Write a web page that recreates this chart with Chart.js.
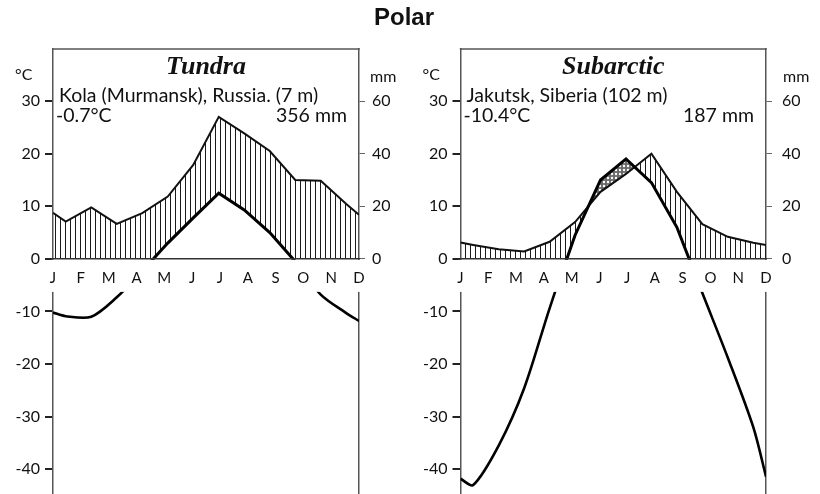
<!DOCTYPE html>
<html>
<head>
<meta charset="utf-8">
<script src="https://cdn.jsdelivr.net/npm/chart.js@4.4.1/dist/chart.umd.min.js"></script>
<style>
  body { margin: 0; background: #fff; }
  #wrap { position: relative; width: 820px; height: 494px; overflow: hidden; }
  #title { position: absolute; left: 0; top: 3px; width: 808px; text-align: center;
           font: bold 24px "Liberation Sans", Arial, sans-serif; line-height: 28px; color: #111; z-index: 2; }
  canvas { position: absolute; top: 0; }
  #tundra { left: 0; }
  #subarctic { left: 410px; }
</style>
</head>
<body>
<div id="wrap">
  <div id="title">Polar</div>
  <canvas id="tundra" width="410" height="494"></canvas>
  <canvas id="subarctic" width="410" height="494"></canvas>
</div>
<script>
// monthly means, plotted at mid-month; the edge values are where the curves meet the frame
const months = ['J', 'F', 'M', 'A', 'M', 'J', 'J', 'A', 'S', 'O', 'N', 'D'];

const tundraTemp = [-10.9, -11.0, -7.3, -2.3, 3.0, 7.8, 12.5, 9.3, 5.0, -0.5, -6.8, -10.3];
const tundraTempEdge = [-10.2, -11.8];
const tundraPrecip = [14.2, 19.6, 13.3, 17.4, 23.7, 35.7, 54.0, 47.7, 41.0, 30.0, 29.7, 20.9];
const tundraPrecipEdge = [17.5, 16.8];

const subarcticTemp = [-43.0, -35.5, -24.6, -9.4, 4.5, 15.0, 19.0, 14.5, 6.0, -6.5, -18.8, -32.0];
const subarcticTempEdge = [-41.8, -41.4];
const subarcticPrecip = [5.3, 3.7, 2.8, 6.5, 14.0, 25.5, 32.3, 40.0, 25.5, 13.2, 8.4, 6.1];
const subarcticPrecipEdge = [6.2, 5.3];

const tempTicks = [-40, -30, -20, -10, 0, 10, 20, 30];
const precipTicks = [0, 20, 40, 60];

const SANS = 'Lato, "Open Sans", sans-serif';
const SERIF = '"Liberation Serif", "Times New Roman", serif';
const INK = '#111';
const FRAME = '#555';
const NONE = 'rgba(0,0,0,0)';

function monthPoints(values, edges) {
    const pts = values.map((v, i) => ({ x: i + 0.5, y: v }));
    return [{ x: 0, y: edges[0] }, ...pts, { x: 12, y: edges[1] }];
}

function hatchPattern(ctx) {
    const c = document.createElement('canvas');
    c.width = 5; c.height = 5;
    const g = c.getContext('2d');
    g.fillStyle = '#1a1a1a';
    g.fillRect(0, 0, 1, 5);
    return ctx.createPattern(c, 'repeat');
}

function dotPattern(ctx) {
    const c = document.createElement('canvas');
    c.width = 4; c.height = 4;
    const g = c.getContext('2d');
    g.fillStyle = '#6a6a6a';
    g.fillRect(0, 0, 4, 4);
    g.fillStyle = '#fff';
    g.beginPath();
    g.arc(2, 2, 1.2, 0, Math.PI * 2);
    g.fill();
    return ctx.createPattern(c, 'repeat');
}

// frame top, the blank band for the month letters, the texts in the box,
// and the split of the temperature curve: straight above 0, smooth below
function framePlugin(info) {
    return {
        id: 'climateFrame',
        beforeDatasetDraw(chart, args) {
            const zone = chart.data.datasets[args.index].zone;
            if (!zone) return;
            const { ctx, width, height, scales } = chart;
            const y0 = scales.y.getPixelForValue(0) + 2;
            ctx.save();
            ctx.beginPath();
            if (zone === 'up') ctx.rect(0, 0, width, y0);
            else ctx.rect(0, y0, width, height - y0);
            ctx.clip();
        },
        afterDatasetDraw(chart, args) {
            if (chart.data.datasets[args.index].zone) chart.ctx.restore();
        },
        afterDatasetsDraw(chart) {
            const { ctx, chartArea: a, scales } = chart;
            const y0 = scales.y.getPixelForValue(0);
            ctx.save();
            ctx.fillStyle = '#fff';
            ctx.fillRect(a.left - 2, y0 + 1, a.right - a.left + 4, 32);
            ctx.restore();
        },
        afterDraw(chart) {
            const { ctx, chartArea: a } = chart;
            ctx.save();
            ctx.strokeStyle = FRAME;
            ctx.lineWidth = 1.5;
            ctx.beginPath();
            ctx.moveTo(a.left - 0.75, a.top);
            ctx.lineTo(a.right + 0.75, a.top);
            ctx.stroke();

            ctx.fillStyle = INK;
            ctx.textBaseline = 'alphabetic';
            ctx.font = `italic bold 26px ${SERIF}`;
            ctx.textAlign = 'center';
            ctx.fillText(info.title, (a.left + a.right) / 2, a.top + 25);

            ctx.font = `19.5px ${SANS}`;
            ctx.textAlign = 'left';
            ctx.fillText(info.place, a.left + 6, a.top + 53);
            ctx.fillText(info.mean, a.left + 3, a.top + 73);
            ctx.textAlign = 'right';
            ctx.fillText(info.total, a.right - 12, a.top + 73);

            ctx.font = `16px ${SANS}`;
            ctx.textAlign = 'left';
            ctx.fillText('°C', a.left - 38, a.top + 31);
            ctx.fillText('mm', a.right + info.mmGap, a.top + 33);
            ctx.restore();
        }
    };
}

function drawDiagram(id, info, temp, tempEdge, precip, precipEdge, area) {
    const ctx = document.getElementById(id).getContext('2d');
    const tempPts = monthPoints(temp, tempEdge);
    const precipPts = monthPoints(precip, precipEdge);
    const tickFont = { family: SANS, size: 16 };

    new Chart(ctx, {
        type: 'line',
        data: {
            datasets: [
                // humid hatching from rain curve down to 0 ...
                { data: precipPts, yAxisID: 'yP', order: 5, borderColor: NONE, borderWidth: 0, pointRadius: 0,
                  fill: { target: 'origin', above: hatchPattern(ctx), below: NONE } },
                // ... wiped again under the positive temperature curve
                { data: tempPts, yAxisID: 'y', order: 4, borderColor: NONE, borderWidth: 0, pointRadius: 0,
                  fill: { target: 'origin', above: '#fff', below: NONE } },
                // rain curve, dotted where it drops under the temperature (dry season)
                { data: precipPts, yAxisID: 'yP', order: 3, borderColor: INK, borderWidth: 2, pointRadius: 0,
                  fill: { target: 3, above: NONE, below: dotPattern(ctx) } },
                { data: tempPts, yAxisID: 'y', order: 2, borderColor: '#000', borderWidth: 3, pointRadius: 0,
                  fill: false, zone: 'up' },
                { data: tempPts, yAxisID: 'y', order: 1, borderColor: '#000', borderWidth: 2.6, pointRadius: 0,
                  fill: false, zone: 'down', tension: 0.3 }
            ]
        },
        options: {
            responsive: false,
            animation: false,
            events: [],
            layout: { padding: { top: 49, left: 0, right: 0, bottom: 0 } },
            plugins: { legend: { display: false }, tooltip: { enabled: false } },
            scales: {
                x: {
                    type: 'linear', min: 0, max: 12,
                    position: { y: 0 },
                    grid: { display: false, drawTicks: false },
                    border: { display: true, color: '#333', width: 1.5, z: 1 },
                    afterBuildTicks: s => { s.ticks = months.map((m, i) => ({ value: i * 12 / (months.length - 1) })); },
                    afterFit: s => { s.paddingLeft = 0; s.paddingRight = 0; },
                    ticks: { z: 1, autoSkip: false, maxRotation: 0, padding: 10, color: INK,
                             font: { family: SANS, size: 15 }, callback: (v, i) => months[i] }
                },
                y: {
                    position: 'left', min: -44.7, max: 39.9,
                    afterBuildTicks: s => { s.ticks = tempTicks.map(v => ({ value: v })); },
                    afterFit: s => { s.width = area.left; s.paddingTop = 0; s.paddingBottom = 0; },
                    grid: { drawOnChartArea: false, tickLength: 8, lineWidth: 2, color: '#222' },
                    border: { color: FRAME, width: 1.5 },
                    ticks: { padding: 5, color: INK, font: tickFont, callback: v => String(v) }
                },
                yP: {
                    position: 'right', min: -89.4, max: 79.8,
                    afterBuildTicks: s => { s.ticks = precipTicks.map(v => ({ value: v })); },
                    afterFit: s => { s.width = area.right; s.paddingTop = 0; s.paddingBottom = 0; },
                    grid: { drawOnChartArea: false, tickLength: 6, lineWidth: 1, color: '#666' },
                    border: { color: FRAME, width: 1.5 },
                    ticks: { padding: area.labelGap, color: INK, font: tickFont, callback: v => String(v) }
                }
            }
        },
        plugins: [framePlugin(info)]
    });
}

drawDiagram('tundra',
    { title: 'Tundra', place: 'Kola (Murmansk), Russia. (7 m)', mean: '-0.7°C', total: '356 mm', mmGap: 11 },
    tundraTemp, tundraTempEdge, tundraPrecip, tundraPrecipEdge,
    { left: 53, right: 51, labelGap: 7 });

drawDiagram('subarctic',
    { title: 'Subarctic', place: 'Jakutsk, Siberia (102 m)', mean: '-10.4°C', total: '187 mm', mmGap: 17 },
    subarcticTemp, subarcticTempEdge, subarcticPrecip, subarcticPrecipEdge,
    { left: 50.5, right: 54, labelGap: 10 });
</script>
</body>
</html>
